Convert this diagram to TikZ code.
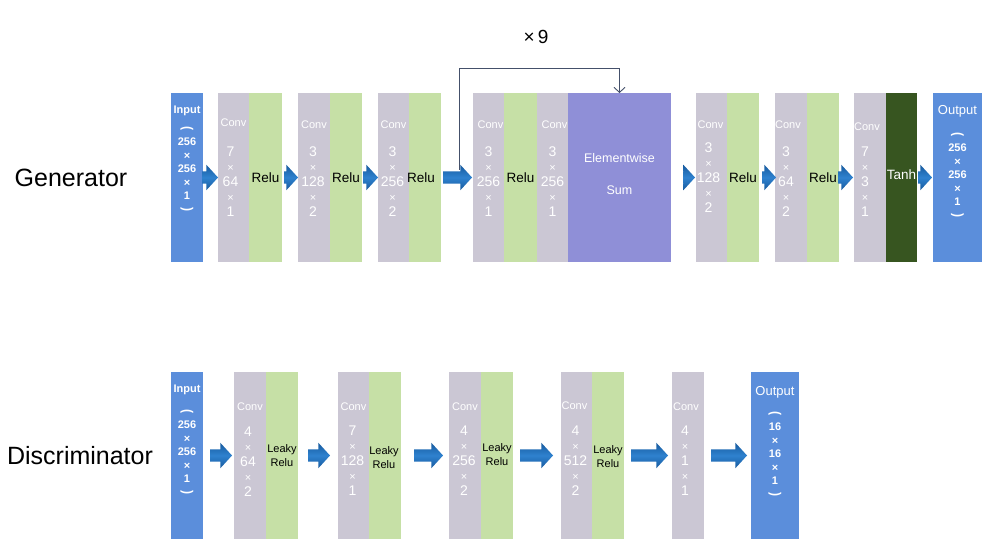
\documentclass[tikz,border=0pt]{standalone}
\usepackage{fontspec}
\usepackage{graphicx}
\setmainfont{Liberation Sans}
\usetikzlibrary{shapes.arrows,arrows.meta,calc}
\definecolor{inblue}{HTML}{5B8EDB}
\definecolor{convgray}{HTML}{CBC7D4}
\definecolor{relugreen}{HTML}{C6E0A6}
\definecolor{sumpurple}{HTML}{8F8FD7}
\definecolor{tanhgreen}{HTML}{375520}
\definecolor{arrowblue}{HTML}{175A9E}
\definecolor{arrowlight}{HTML}{2F82CF}
\definecolor{skipline}{HTML}{44506A}
\newcommand\smx{{\fontsize{11}{11}\selectfont ×}}
\newcommand\opar{\scalebox{1.25}[1.1]{\rotatebox[origin=c]{-90}{(}}}
\newcommand\cpar{\scalebox{1.25}[1.1]{\rotatebox[origin=c]{-90}{)}}}
\tikzset{
  blk/.style={draw=none, inner sep=0pt, outer sep=0pt, anchor=north west},
  genrowbox/.style={minimum height=169},
  disrowbox/.style={minimum height=167},
  inbox/.style={blk, fill=inblue},
  convbox/.style={blk, fill=convgray},
  relubox/.style={blk, fill=relugreen},
  sumbox/.style={blk, fill=sumpurple},
  tanhbox/.style={blk, fill=tanhgreen},
  convlbl/.style={text=white, inner sep=0pt, font=\fontsize{11}{11}\selectfont},
  dims/.style={text=white, inner sep=0pt, align=center, font=\fontsize{14}{15}\selectfont},
  iolbl/.style={text=white, inner sep=0pt, font=\bfseries\fontsize{11}{11}\selectfont},
  outlbl/.style={text=white, inner sep=0pt, font=\fontsize{13}{13}\selectfont},
  iodims/.style={text=white, inner sep=0pt, align=center, font=\bfseries\fontsize{11}{13.5}\selectfont},
  actlbl/.style={text=black, inner sep=0pt, align=center, font=\fontsize{13.5}{14}\selectfont},
  leakylbl/.style={text=black, inner sep=0pt, align=center, font=\fontsize{11}{14}\selectfont},
  barrow/.style={single arrow, draw=none, inner xsep=0pt, inner ysep=6pt, outer sep=0pt,
    minimum width=25, single arrow head extend=6.5pt, single arrow tip angle=95,
    single arrow head indent=0pt, anchor=west,
    top color=arrowblue, bottom color=arrowblue, middle color=arrowlight},
  rowlbl/.style={text=black, inner sep=0pt, font=\fontsize{25}{25}\selectfont},
  skip/.style={draw=skipline, line width=0.9pt, -{Straight Barb[length=5pt,width=11pt]}},
}
\begin{document}
\begin{tikzpicture}[x=1pt,y=-1pt]
\useasboundingbox[fill=white] (0,0) rectangle (996,555);

% ---------------- Generator ----------------
\node[rowlbl] (glabel) at (71,178) {Generator};

\node[inbox, genrowbox, minimum width=32] (gin) at (171,93) {};
\node[convbox, genrowbox, minimum width=31] (g1c) at (218,93) {};
\node[relubox, genrowbox, minimum width=33] (g1r) at (249,93) {};
\node[convbox, genrowbox, minimum width=32] (g2c) at (298,93) {};
\node[relubox, genrowbox, minimum width=32] (g2r) at (330,93) {};
\node[convbox, genrowbox, minimum width=31] (g3c) at (378,93) {};
\node[relubox, genrowbox, minimum width=32] (g3r) at (409,93) {};
\node[convbox, genrowbox, minimum width=31] (r1c) at (473,93) {};
\node[relubox, genrowbox, minimum width=33] (r1r) at (504,93) {};
\node[convbox, genrowbox, minimum width=31] (r2c) at (537,93) {};
\node[sumbox, genrowbox, minimum width=103] (sum) at (568,93) {};
\node[convbox, genrowbox, minimum width=31] (g4c) at (696,93) {};
\node[relubox, genrowbox, minimum width=32] (g4r) at (727,93) {};
\node[convbox, genrowbox, minimum width=32] (g5c) at (775,93) {};
\node[relubox, genrowbox, minimum width=32] (g5r) at (807,93) {};
\node[convbox, genrowbox, minimum width=32] (g6c) at (854,93) {};
\node[tanhbox, genrowbox, minimum width=31] (tanh) at (886,93) {};
\node[inbox, genrowbox, minimum width=49] (gout) at (933,93) {};

% input text
\node[iolbl] (ginlbl) at ($(gin.north)+(0,18)$) {Input};
\node[iodims] (gindims) at ($(gin.north)+(0,77)$) {\opar\\256\\×\\256\\×\\1\\\cpar};
% conv texts
\node[convlbl] (g1cl) at ($(g1c.north)+(0,30)$) {Conv};
\node[dims] (g1cd) at ($(g1c.north)+(-3,89)$) {7\\\smx\\64\\\smx\\1};
\node[actlbl] (g1rl) at (g1r.center) {Relu};
\node[convlbl] (g2cl) at ($(g2c.north)+(0,32)$) {Conv};
\node[dims] (g2cd) at ($(g2c.north)+(-1,89)$) {3\\\smx\\128\\\smx\\2};
\node[actlbl] (g2rl) at (g2r.center) {Relu};
\node[convlbl] (g3cl) at ($(g3c.north)+(0,32)$) {Conv};
\node[dims] (g3cd) at ($(g3c.north)+(-1,89)$) {3\\\smx\\256\\\smx\\2};
\node[actlbl] (g3rl) at ($(g3r.center)+(-4,0)$) {Relu};
\node[convlbl] (r1cl) at ($(r1c.north)+(2,32)$) {Conv};
\node[dims] (r1cd) at ($(r1c.north)+(0,89)$) {3\\\smx\\256\\\smx\\1};
\node[actlbl] (r1rl) at (r1r.center) {Relu};
\node[convlbl] (r2cl) at ($(r2c.north)+(2,32)$) {Conv};
\node[dims] (r2cd) at ($(r2c.north)+(0,89)$) {3\\\smx\\256\\\smx\\1};
\node[text=white, inner sep=0pt, align=center, font=\fontsize{12.5}{32}\selectfont] (suml) at ($(sum.center)+(0,-3)$) {Elementwise\\Sum};
\node[convlbl] (g4cl) at ($(g4c.north)+(-1,32)$) {Conv};
\node[dims] (g4cd) at ($(g4c.north)+(-3,85)$) {3\\\smx\\128\\\smx\\2};
\node[actlbl] (g4rl) at (g4r.center) {Relu};
\node[convlbl] (g5cl) at ($(g5c.north)+(-3,32)$) {Conv};
\node[dims] (g5cd) at ($(g5c.north)+(-5,89)$) {3\\\smx\\64\\\smx\\2};
\node[actlbl] (g5rl) at (g5r.center) {Relu};
\node[convlbl] (g6cl) at ($(g6c.north)+(-3,34)$) {Conv};
\node[dims] (g6cd) at ($(g6c.north)+(-5,89)$) {7\\\smx\\3\\\smx\\1};
\node[actlbl, text=white] (tanhl) at ($(tanh.center)+(0,-3)$) {Tanh};
\node[outlbl] (goutlbl) at ($(gout.north)+(0,18)$) {Output};
\node[iodims] (goutdims) at ($(gout.north)+(0,83)$) {\opar\\256\\×\\256\\×\\1\\\cpar};

% skip connection (drawn before the block arrow so the arrow covers its end)
\coordinate (skipfoot) at ($(g3r.east)+(18,-8)$);
\coordinate (skiptop) at ($(sum.north)+(0,-25)$);
\draw[skip] (skipfoot) |- (skiptop) -- (sum.north);
\node[inner sep=0pt, font=\fontsize{19}{19}\selectfont] (times9) at (536,37) {×\,9};

% arrows
\node[barrow, minimum height=16] (ga1) at ($(gin.east)+(-1,0)$) {};
\node[barrow, minimum height=14] (ga2) at ($(g1r.east)+(2,0)$) {};
\node[barrow, minimum height=15] (ga3) at ($(g2r.east)+(1,0)$) {};
\node[barrow, minimum height=29] (ga4) at ($(g3r.east)+(2,0)$) {};
\node[barrow, minimum height=12] (ga5) at ($(sum.east)+(12,0)$) {};
\node[barrow, minimum height=14] (ga6) at ($(g4r.east)+(3,0)$) {};
\node[barrow, minimum height=15] (ga7) at ($(g5r.east)+(-1,0)$) {};
\node[barrow, minimum height=14] (ga8) at ($(tanh.east)+(1,0)$) {};

% ---------------- Discriminator ----------------
\node[rowlbl] (dlabel) at (80,456) {Discriminator};

\node[inbox, disrowbox, minimum width=32] (din) at (171,372) {};
\node[convbox, disrowbox, minimum width=32] (d1c) at (234,372) {};
\node[relubox, disrowbox, minimum width=32] (d1r) at (266,372) {};
\node[convbox, disrowbox, minimum width=31] (d2c) at (338,372) {};
\node[relubox, disrowbox, minimum width=32] (d2r) at (369,372) {};
\node[convbox, disrowbox, minimum width=32] (d3c) at (449,372) {};
\node[relubox, disrowbox, minimum width=32] (d3r) at (481,372) {};
\node[convbox, disrowbox, minimum width=31] (d4c) at (561,372) {};
\node[relubox, disrowbox, minimum width=32] (d4r) at (592,372) {};
\node[convbox, disrowbox, minimum width=32] (d5c) at (672,372) {};
\node[inbox, disrowbox, minimum width=48] (dout) at (751,372) {};

\node[iolbl] (dinlbl) at ($(din.north)+(0,18)$) {Input};
\node[iodims] (dindims) at ($(din.north)+(0,81)$) {\opar\\256\\×\\256\\×\\1\\\cpar};
\node[convlbl] (d1cl) at ($(d1c.north)+(0,35)$) {Conv};
\node[dims] (d1cd) at ($(d1c.north)+(-2,90)$) {4\\\smx\\64\\\smx\\2};
\node[leakylbl] (d1rl) at (d1r.center) {Leaky\\Relu};
\node[convlbl] (d2cl) at ($(d2c.north)+(0,35)$) {Conv};
\node[dims] (d2cd) at ($(d2c.north)+(-1,89)$) {7\\\smx\\128\\\smx\\1};
\node[leakylbl] (d2rl) at ($(d2r.center)+(-1,2)$) {Leaky\\Relu};
\node[convlbl] (d3cl) at ($(d3c.north)+(0,35)$) {Conv};
\node[dims] (d3cd) at ($(d3c.north)+(-1,89)$) {4\\\smx\\256\\\smx\\2};
\node[leakylbl] (d3rl) at ($(d3r.center)+(0,-1)$) {Leaky\\Relu};
\node[convlbl] (d4cl) at ($(d4c.north)+(-2,34)$) {Conv};
\node[dims] (d4cd) at ($(d4c.north)+(-1,89)$) {4\\\smx\\512\\\smx\\2};
\node[leakylbl] (d4rl) at ($(d4r.center)+(0,1)$) {Leaky\\Relu};
\node[convlbl] (d5cl) at ($(d5c.north)+(-2,35)$) {Conv};
\node[dims] (d5cd) at ($(d5c.north)+(-3,89)$) {4\\\smx\\1\\\smx\\1};
\node[outlbl] (doutlbl) at ($(dout.north)+(0,20)$) {Output};
\node[iodims] (doutdims) at ($(dout.north)+(0,83)$) {\opar\\16\\×\\16\\×\\1\\\cpar};

\node[barrow, minimum height=22] (da1) at ($(din.east)+(7,0)$) {};
\node[barrow, minimum height=22] (da2) at ($(d1r.east)+(10,0)$) {};
\node[barrow, minimum height=29] (da3) at ($(d2r.east)+(13,0)$) {};
\node[barrow, minimum height=33] (da4) at ($(d3r.east)+(7,0)$) {};
\node[barrow, minimum height=37] (da5) at ($(d4r.east)+(7,0)$) {};
\node[barrow, minimum height=36] (da6) at ($(d5c.east)+(7,0)$) {};
\end{tikzpicture}
\end{document}
